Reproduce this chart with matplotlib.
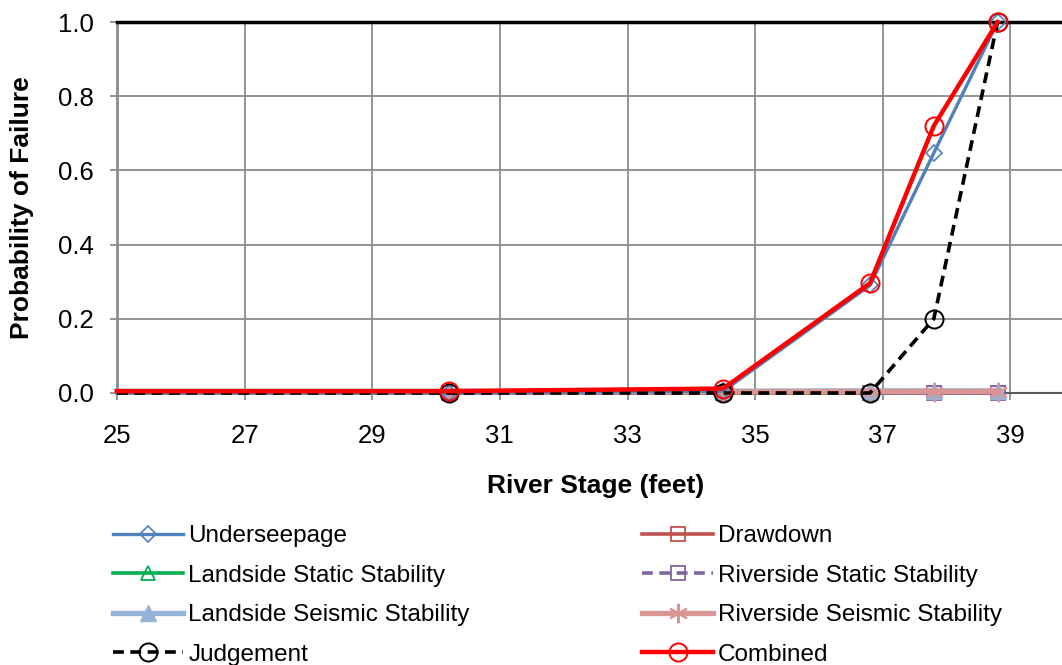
import numpy as np
import matplotlib
matplotlib.use("Agg")
import matplotlib.pyplot as plt

plt.rcParams['font.family'] = ['Liberation Sans', 'DejaVu Sans']

# river stage (feet); the first point only carries the line to the axis edge
stage = [25.0, 30.2, 34.5, 36.8, 37.8, 38.8]

underseepage = [0.0, 0.0, 0.005, 0.29, 0.647, 1.0]
drawdown = [0.0, 0.0, 0.0, 0.0, 0.0, 0.0]
landside_static = [0.0, 0.0, 0.0, 0.0, 0.0, 0.0]
riverside_static = [0.0, 0.0, 0.0, 0.0, 0.0, 0.0]
landside_seismic = [0.005, 0.005, 0.005, 0.006, 0.006, 0.006]
riverside_seismic = [0.003, 0.003, 0.003, 0.004, 0.004, 0.004]
judgement = [0.0, 0.0, 0.0, 0.0, 0.2, 1.0]
combined = [0.005, 0.005, 0.012, 0.296, 0.72, 1.0]

fig = plt.figure(figsize=(10.62, 6.65), dpi=100)
W, H = 1062, 665
ax = fig.add_axes([117 / W, (665 - 393) / H, 1021 / W, 371 / H])

series = [
    ("Underseepage", underseepage, dict(color="#4F81BD", lw=2.4, marker="D", ms=8, mfc="none", mec="#4F81BD", mew=1.2, zorder=6)),
    ("Landside Static Stability", landside_static, dict(color="#00B050", lw=2.6, marker="^", ms=10, mfc="none", mec="#00B050", mew=1.3, zorder=3)),
    ("Landside Seismic Stability", landside_seismic, dict(color="#95B3D7", lw=3.8, marker="^", ms=11, mfc="#95B3D7", mec="#95B3D7", zorder=4)),
    ("Judgement", judgement, dict(color="black", lw=2.6, ls=(0, (3, 1.8)), marker="o", ms=13, mfc="none", mec="black", mew=1.4, zorder=7)),
    ("Drawdown", drawdown, dict(color="#C0504D", lw=2.6, marker="s", ms=10, mfc="none", mec="#C0504D", mew=1.3, zorder=3)),
    ("Riverside Static Stability", riverside_static, dict(color="#8064A2", lw=2.6, ls=(0, (3, 1.8)), marker="s", ms=10, mfc="none", mec="#8064A2", mew=1.3, zorder=3)),
    ("Riverside Seismic Stability", riverside_seismic, dict(color="#D99694", lw=3.8, marker=(6, 2, 0), ms=14, mec="#D99694", mew=1.5, zorder=5)),
    ("Combined", combined, dict(color="#FF0000", lw=3.2, marker="o", ms=13, mfc="none", mec="#FF0000", mew=1.4, zorder=8)),
]

for name, vals, kw in series:
    ax.plot(stage, vals, label=name, clip_on=False, markevery=slice(1, None), **kw)

ax.set_xlim(25, 41)
ax.set_ylim(0, 1.0)
ax.set_xticks(np.arange(25, 40, 2))
ax.set_yticks(np.arange(0, 1.01, 0.2))
ax.set_yticklabels([f"{v:.1f}" for v in np.arange(0, 1.01, 0.2)])
ax.grid(True, color="#8C8C8C", lw=1.3)
ax.set_axisbelow(True)

ax.spines["right"].set_visible(False)
ax.spines["top"].set_color("black")
ax.spines["top"].set_linewidth(2.5)
ax.spines["left"].set_color("#8C8C8C")
ax.spines["left"].set_linewidth(2.0)
ax.spines["bottom"].set_color("#595959")
ax.spines["bottom"].set_linewidth(1.5)
ax.tick_params(axis="both", labelsize=18.5, colors="#8C8C8C", labelcolor="black", length=5, width=1.3, direction="out")
ax.tick_params(axis="x", pad=17)
ax.tick_params(axis="y", pad=12)

ax.set_ylabel("Probability of Failure", fontsize=19, fontweight="bold", va="center")
ax.yaxis.set_label_coords(-95 / 1021, 0.5)
fig.text(596 / W, 1 - 486 / H, "River Stage (feet)", fontsize=19, fontweight="bold", ha="center", va="center")

handles, labels = ax.get_legend_handles_labels()
fig.legend(handles, labels, ncol=2, loc="upper left", bbox_to_anchor=(113 / W, 1 - 525 / H),
           frameon=False, fontsize=17.5, handlelength=2.9, handletextpad=0.2,
           columnspacing=7.1, labelspacing=0.72, borderaxespad=0, borderpad=0)

fig.savefig("out.png", dpi=100)
